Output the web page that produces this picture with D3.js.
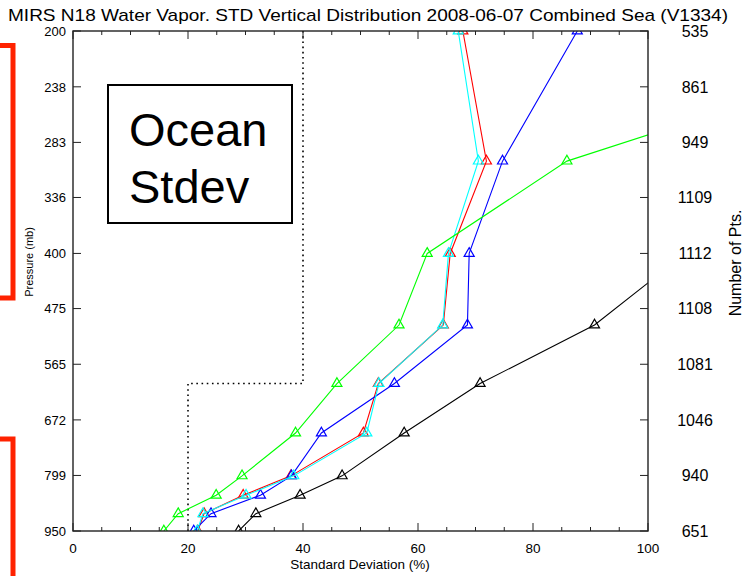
<!DOCTYPE html>
<html>
<head>
<meta charset="utf-8">
<script src="https://cdn.jsdelivr.net/npm/d3@7"></script>
<style>
  html, body { margin: 0; padding: 0; background: #fff; }
  svg { display: block; }
  text { font-family: "Liberation Sans", Arial, sans-serif; fill: #000; }
</style>
</head>
<body>
<svg id="chart" width="746" height="576"></svg>
<script>
// ---------- data ----------
const levels = [200, 300, 400, 500, 600, 700, 800, 850, 900, 950];
const redValues   = [67.8, 71.9, 65.6, 64.4, 53.1, 50.5, 37.9, 29.6, 22.8, 21.7];
const cyanValues  = [67.0, 70.5, 65.3, 64.3, 53.2, 51.1, 38.4, 30.1, 22.6, 21.6];
const blueValues  = [87.7, 74.7, 68.9, 68.6, 55.9, 43.2, 38.0, 32.6, 24.0, 21.0];
const greenValues = [156, 85.9, 61.6, 56.7, 45.9, 38.7, 29.4, 24.9, 18.3, 15.8];
const blackValues = [null, null, 106.5, 90.7, 70.8, 57.6, 46.8, 39.5, 31.8, 28.8];

const pressureTicks = [200, 238, 283, 336, 400, 475, 565, 672, 799, 950];
const pointCounts   = [535, 861, 949, 1109, 1112, 1108, 1081, 1046, 940, 651];
const xTicks = [0, 20, 40, 60, 80, 100];
const xMinorTicks = d3.range(0, 101, 5);

const thresholdX = [40, 40, 20, 20];
const thresholdP = [200, 600, 600, 950];

const titleText = "MIRS N18 Water Vapor. STD Vertical Distribution 2008-06-07 Combined Sea (V1334)";

// ---------- layout ----------
const svg = d3.select("#chart");
const L = 73, R = 648, T = 31, B = 531;

const x = d3.scaleLinear().domain([0, 100]).range([L, R]);
const y = d3.scaleLog().domain([200, 950]).range([T, B]);

svg.append("defs").append("clipPath").attr("id", "plotclip")
  .append("rect").attr("x", L).attr("y", T).attr("width", R - L).attr("height", B - T);

// title
svg.append("text")
  .attr("x", 8).attr("y", 21)
  .attr("textLength", 720).attr("lengthAdjust", "spacingAndGlyphs")
  .style("font-size", "17px")
  .text(titleText);

// dotted threshold line
const plot = svg.append("g").attr("clip-path", "url(#plotclip)");
plot.append("path")
  .attr("d", d3.line().x(d => x(d[0])).y(d => y(d[1]))(thresholdX.map((v, i) => [v, thresholdP[i]])))
  .attr("fill", "none").attr("stroke", "#000").attr("stroke-width", 1.6)
  .attr("stroke-dasharray", "1.6,3.6");

// series
const series = [
  { vals: redValues,   color: "#ff0000" },
  { vals: blueValues,  color: "#0000ff" },
  { vals: cyanValues,  color: "#00ffff" },
  { vals: greenValues, color: "#00ff00" },
  { vals: blackValues, color: "#000000" }
];

const line = d3.line()
  .defined(d => d.v !== null)
  .x(d => x(d.v)).y(d => y(d.p));

const tri = (r) => {
  const h = r * 0.866;
  return `M0,${-r}L${h},${r / 2}L${-h},${r / 2}Z`;
};

series.forEach(s => {
  const pts = levels.map((p, i) => ({ p, v: s.vals[i] }));
  plot.append("path")
    .attr("d", line(pts))
    .attr("fill", "none").attr("stroke", s.color).attr("stroke-width", 1.1);
  plot.selectAll(null)
    .data(pts.filter(d => d.v !== null))
    .enter().append("path")
    .attr("transform", d => `translate(${x(d.v)},${y(d.p)})`)
    .attr("d", tri(5.8))
    .attr("fill", "none").attr("stroke", s.color).attr("stroke-width", 1.2);
});

// frame
const frame = svg.append("g").attr("stroke", "#222").attr("fill", "none");
frame.append("rect").attr("x", L).attr("y", T).attr("width", R - L).attr("height", B - T)
  .attr("stroke-width", 1.4);

// x ticks (bottom & top)
xMinorTicks.forEach(v => {
  const len = (v % 20 === 0) ? 8 : 4;
  frame.append("line").attr("x1", x(v)).attr("x2", x(v)).attr("y1", B).attr("y2", B - len).attr("stroke-width", 1);
  frame.append("line").attr("x1", x(v)).attr("x2", x(v)).attr("y1", T).attr("y2", T + len).attr("stroke-width", 1);
});
// y ticks (left & right)
pressureTicks.forEach(p => {
  frame.append("line").attr("x1", L).attr("x2", L + 8).attr("y1", y(p)).attr("y2", y(p)).attr("stroke-width", 1);
  frame.append("line").attr("x1", R).attr("x2", R - 8).attr("y1", y(p)).attr("y2", y(p)).attr("stroke-width", 1);
});

// tick labels
svg.selectAll(null).data(xTicks).enter().append("text")
  .attr("x", d => x(d)).attr("y", 553)
  .attr("text-anchor", "middle").style("font-size", "13.5px")
  .text(d => d);

svg.selectAll(null).data(pressureTicks).enter().append("text")
  .attr("x", 66).attr("y", d => y(d)).attr("dy", "0.36em")
  .attr("text-anchor", "end").style("font-size", "13px")
  .text(d => d);

svg.selectAll(null).data(pointCounts).enter().append("text")
  .attr("x", 695).attr("y", (d, i) => y(pressureTicks[i])).attr("dy", "0.36em")
  .attr("text-anchor", "middle").style("font-size", "16px")
  .text(d => d);

// axis titles
svg.append("text").attr("x", 360).attr("y", 569)
  .attr("text-anchor", "middle").style("font-size", "13.5px")
  .text("Standard Deviation (%)");

svg.append("text")
  .attr("transform", "translate(33,262) rotate(-90)")
  .attr("text-anchor", "middle").style("font-size", "11px")
  .text("Pressure (mb)");

svg.append("text")
  .attr("transform", "translate(741,263) rotate(-90)")
  .attr("text-anchor", "middle").style("font-size", "16px")
  .text("Number of Pts.");

// annotation box
svg.append("rect").attr("x", 108).attr("y", 85).attr("width", 184).attr("height", 138)
  .attr("fill", "#fff").attr("stroke", "#000").attr("stroke-width", 2);
svg.append("text").attr("x", 129).attr("y", 146).style("font-size", "47px").text("Ocean");
svg.append("text").attr("x", 129).attr("y", 203).style("font-size", "47px").text("Stdev");

// red brackets
const br = svg.append("g").attr("fill", "none").attr("stroke", "#ff2200").attr("stroke-width", 5);
br.append("path").attr("d", "M-2,45.5H13V298H-2");
br.append("path").attr("d", "M-2,439H13V580");
</script>
</body>
</html>
